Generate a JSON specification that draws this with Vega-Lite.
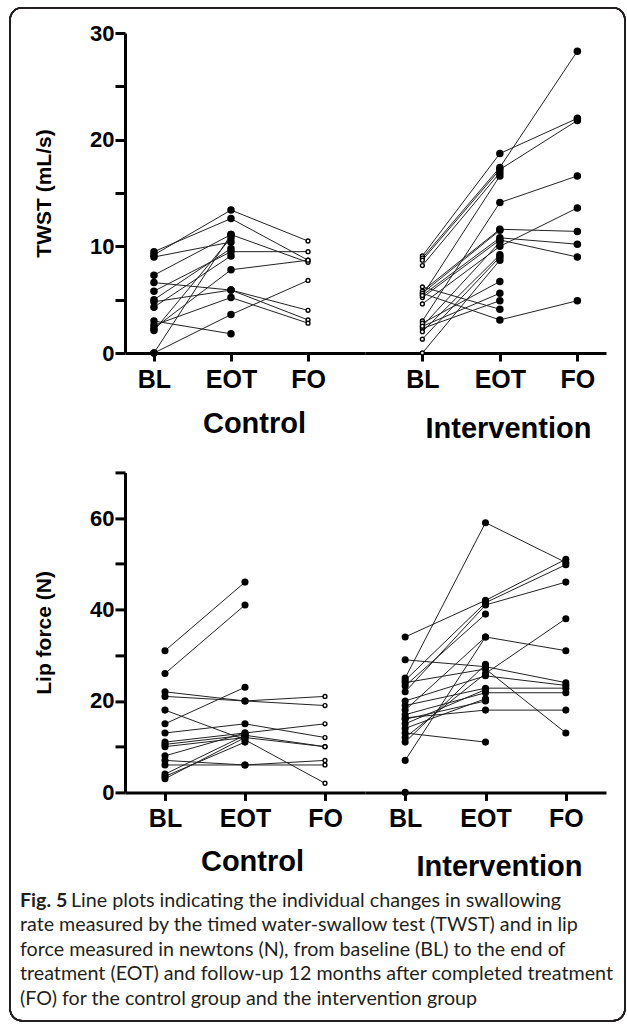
{
  "$schema": "https://vega.github.io/schema/vega-lite/v6.json",
  "padding": {"left": 9, "top": 7, "right": 1, "bottom": 1},
  "background": "white",
  "bounds": "flush",
  "columns": 2,
  "spacing": {"row": 119.4, "column": 0},
  "config": {
    "view": {"stroke": null},
    "font": "Liberation Sans",
    "axis": {
      "grid": false,
      "domainColor": "black",
      "domainWidth": 3,
      "tickColor": "black",
      "tickWidth": 3,
      "labelColor": "black",
      "labelFont": "Liberation Sans",
      "labelFontWeight": "bold",
      "titleColor": "black",
      "titleFont": "Liberation Sans",
      "titleFontWeight": "bold"
    }
  },
  "datasets": {
    "twst": [
      {"group": "Control", "subject": "C1", "time": "BL", "value": 9.2},
      {"group": "Control", "subject": "C1", "time": "EOT", "value": 13.4},
      {"group": "Control", "subject": "C1", "time": "FO", "value": 10.5},
      {"group": "Control", "subject": "C2", "time": "BL", "value": 9.5},
      {"group": "Control", "subject": "C2", "time": "EOT", "value": 12.6},
      {"group": "Control", "subject": "C2", "time": "FO", "value": 8.7},
      {"group": "Control", "subject": "C3", "time": "BL", "value": 9.0},
      {"group": "Control", "subject": "C3", "time": "EOT", "value": 10.4},
      {"group": "Control", "subject": "C4", "time": "BL", "value": 7.3},
      {"group": "Control", "subject": "C4", "time": "EOT", "value": 11.1},
      {"group": "Control", "subject": "C4", "time": "FO", "value": 8.5},
      {"group": "Control", "subject": "C5", "time": "BL", "value": 6.6},
      {"group": "Control", "subject": "C5", "time": "EOT", "value": 5.9},
      {"group": "Control", "subject": "C5", "time": "FO", "value": 4.0},
      {"group": "Control", "subject": "C6", "time": "BL", "value": 5.8},
      {"group": "Control", "subject": "C6", "time": "EOT", "value": 9.5},
      {"group": "Control", "subject": "C6", "time": "FO", "value": 9.5},
      {"group": "Control", "subject": "C7", "time": "BL", "value": 5.0},
      {"group": "Control", "subject": "C7", "time": "EOT", "value": 9.8},
      {"group": "Control", "subject": "C8", "time": "BL", "value": 4.8},
      {"group": "Control", "subject": "C8", "time": "EOT", "value": 5.9},
      {"group": "Control", "subject": "C8", "time": "FO", "value": 3.1},
      {"group": "Control", "subject": "C9", "time": "BL", "value": 4.3},
      {"group": "Control", "subject": "C9", "time": "EOT", "value": 9.1},
      {"group": "Control", "subject": "C10", "time": "BL", "value": 3.0},
      {"group": "Control", "subject": "C10", "time": "EOT", "value": 1.8},
      {"group": "Control", "subject": "C11", "time": "BL", "value": 2.6},
      {"group": "Control", "subject": "C11", "time": "EOT", "value": 5.2},
      {"group": "Control", "subject": "C11", "time": "FO", "value": 2.8},
      {"group": "Control", "subject": "C12", "time": "BL", "value": 2.3},
      {"group": "Control", "subject": "C12", "time": "EOT", "value": 7.8},
      {"group": "Control", "subject": "C12", "time": "FO", "value": 8.7},
      {"group": "Control", "subject": "C13", "time": "BL", "value": 2.1},
      {"group": "Control", "subject": "C13", "time": "EOT", "value": 10.8},
      {"group": "Control", "subject": "C14", "time": "BL", "value": 0},
      {"group": "Control", "subject": "C14", "time": "EOT", "value": 11.1},
      {"group": "Control", "subject": "C15", "time": "BL", "value": 0},
      {"group": "Control", "subject": "C15", "time": "EOT", "value": 3.6},
      {"group": "Control", "subject": "C15", "time": "FO", "value": 6.8},
      {"group": "Intervention", "subject": "I1", "time": "BL", "value": 9.1},
      {"group": "Intervention", "subject": "I1", "time": "EOT", "value": 18.7},
      {"group": "Intervention", "subject": "I1", "time": "FO", "value": 22.0},
      {"group": "Intervention", "subject": "I2", "time": "BL", "value": 8.9},
      {"group": "Intervention", "subject": "I2", "time": "EOT", "value": 17.4},
      {"group": "Intervention", "subject": "I2", "time": "FO", "value": 28.3},
      {"group": "Intervention", "subject": "I3", "time": "BL", "value": 8.7},
      {"group": "Intervention", "subject": "I3", "time": "EOT", "value": 17.2},
      {"group": "Intervention", "subject": "I3", "time": "FO", "value": 21.8},
      {"group": "Intervention", "subject": "I4", "time": "BL", "value": 8.2},
      {"group": "Intervention", "subject": "I4", "time": "EOT", "value": 16.9},
      {"group": "Intervention", "subject": "I5", "time": "BL", "value": 6.2},
      {"group": "Intervention", "subject": "I5", "time": "EOT", "value": 4.1},
      {"group": "Intervention", "subject": "I6", "time": "BL", "value": 5.8},
      {"group": "Intervention", "subject": "I6", "time": "EOT", "value": 11.6},
      {"group": "Intervention", "subject": "I6", "time": "FO", "value": 11.4},
      {"group": "Intervention", "subject": "I7", "time": "BL", "value": 5.6},
      {"group": "Intervention", "subject": "I7", "time": "EOT", "value": 3.1},
      {"group": "Intervention", "subject": "I7", "time": "FO", "value": 4.9},
      {"group": "Intervention", "subject": "I8", "time": "BL", "value": 5.4},
      {"group": "Intervention", "subject": "I8", "time": "EOT", "value": 10.8},
      {"group": "Intervention", "subject": "I8", "time": "FO", "value": 10.2},
      {"group": "Intervention", "subject": "I9", "time": "BL", "value": 5.2},
      {"group": "Intervention", "subject": "I9", "time": "EOT", "value": 10.6},
      {"group": "Intervention", "subject": "I9", "time": "FO", "value": 9.0},
      {"group": "Intervention", "subject": "I10", "time": "BL", "value": 4.6},
      {"group": "Intervention", "subject": "I10", "time": "EOT", "value": 10.0},
      {"group": "Intervention", "subject": "I10", "time": "FO", "value": 13.6},
      {"group": "Intervention", "subject": "I11", "time": "BL", "value": 5.6},
      {"group": "Intervention", "subject": "I11", "time": "EOT", "value": 11.5},
      {"group": "Intervention", "subject": "I12", "time": "BL", "value": 5.4},
      {"group": "Intervention", "subject": "I12", "time": "EOT", "value": 16.6},
      {"group": "Intervention", "subject": "I13", "time": "BL", "value": 3.0},
      {"group": "Intervention", "subject": "I13", "time": "EOT", "value": 14.1},
      {"group": "Intervention", "subject": "I13", "time": "FO", "value": 16.6},
      {"group": "Intervention", "subject": "I14", "time": "BL", "value": 2.8},
      {"group": "Intervention", "subject": "I14", "time": "EOT", "value": 6.7},
      {"group": "Intervention", "subject": "I15", "time": "BL", "value": 2.5},
      {"group": "Intervention", "subject": "I15", "time": "EOT", "value": 5.6},
      {"group": "Intervention", "subject": "I16", "time": "BL", "value": 2.3},
      {"group": "Intervention", "subject": "I16", "time": "EOT", "value": 4.9},
      {"group": "Intervention", "subject": "I17", "time": "BL", "value": 2.0},
      {"group": "Intervention", "subject": "I17", "time": "EOT", "value": 9.2},
      {"group": "Intervention", "subject": "I18", "time": "BL", "value": 1.3},
      {"group": "Intervention", "subject": "I18", "time": "EOT", "value": 9.0},
      {"group": "Intervention", "subject": "I19", "time": "BL", "value": 0},
      {"group": "Intervention", "subject": "I19", "time": "EOT", "value": 8.7},
      {"group": "Intervention", "subject": "I20", "time": "BL", "value": 2.5},
      {"group": "Intervention", "subject": "I20", "time": "EOT", "value": 10.4}
    ],
    "lip": [
      {"group": "Control", "subject": "L1", "time": "BL", "value": 31},
      {"group": "Control", "subject": "L1", "time": "EOT", "value": 46},
      {"group": "Control", "subject": "L2", "time": "BL", "value": 26},
      {"group": "Control", "subject": "L2", "time": "EOT", "value": 41},
      {"group": "Control", "subject": "L3", "time": "BL", "value": 22},
      {"group": "Control", "subject": "L3", "time": "EOT", "value": 20},
      {"group": "Control", "subject": "L3", "time": "FO", "value": 21},
      {"group": "Control", "subject": "L4", "time": "BL", "value": 21},
      {"group": "Control", "subject": "L4", "time": "EOT", "value": 20},
      {"group": "Control", "subject": "L4", "time": "FO", "value": 19},
      {"group": "Control", "subject": "L5", "time": "BL", "value": 18},
      {"group": "Control", "subject": "L5", "time": "EOT", "value": 11.5},
      {"group": "Control", "subject": "L5", "time": "FO", "value": 2},
      {"group": "Control", "subject": "L6", "time": "BL", "value": 15},
      {"group": "Control", "subject": "L6", "time": "EOT", "value": 23},
      {"group": "Control", "subject": "L7", "time": "BL", "value": 13},
      {"group": "Control", "subject": "L7", "time": "EOT", "value": 15},
      {"group": "Control", "subject": "L7", "time": "FO", "value": 12},
      {"group": "Control", "subject": "L8", "time": "BL", "value": 11},
      {"group": "Control", "subject": "L8", "time": "EOT", "value": 13},
      {"group": "Control", "subject": "L8", "time": "FO", "value": 15},
      {"group": "Control", "subject": "L9", "time": "BL", "value": 10.5},
      {"group": "Control", "subject": "L9", "time": "EOT", "value": 12.5},
      {"group": "Control", "subject": "L9", "time": "FO", "value": 10},
      {"group": "Control", "subject": "L10", "time": "BL", "value": 10},
      {"group": "Control", "subject": "L10", "time": "EOT", "value": 12},
      {"group": "Control", "subject": "L10", "time": "FO", "value": 10},
      {"group": "Control", "subject": "L11", "time": "BL", "value": 8},
      {"group": "Control", "subject": "L11", "time": "EOT", "value": 13},
      {"group": "Control", "subject": "L12", "time": "BL", "value": 7},
      {"group": "Control", "subject": "L12", "time": "EOT", "value": 6},
      {"group": "Control", "subject": "L12", "time": "FO", "value": 7},
      {"group": "Control", "subject": "L13", "time": "BL", "value": 6},
      {"group": "Control", "subject": "L13", "time": "EOT", "value": 6},
      {"group": "Control", "subject": "L13", "time": "FO", "value": 6},
      {"group": "Control", "subject": "L14", "time": "BL", "value": 4},
      {"group": "Control", "subject": "L14", "time": "EOT", "value": 12.5},
      {"group": "Control", "subject": "L15", "time": "BL", "value": 3.5},
      {"group": "Control", "subject": "L15", "time": "EOT", "value": 11},
      {"group": "Control", "subject": "L16", "time": "BL", "value": 3},
      {"group": "Control", "subject": "L16", "time": "EOT", "value": 12},
      {"group": "Intervention", "subject": "M1", "time": "BL", "value": 25},
      {"group": "Intervention", "subject": "M1", "time": "EOT", "value": 59},
      {"group": "Intervention", "subject": "M1", "time": "FO", "value": 50.3},
      {"group": "Intervention", "subject": "M2", "time": "BL", "value": 34},
      {"group": "Intervention", "subject": "M2", "time": "EOT", "value": 42},
      {"group": "Intervention", "subject": "M2", "time": "FO", "value": 51},
      {"group": "Intervention", "subject": "M3", "time": "BL", "value": 24.5},
      {"group": "Intervention", "subject": "M3", "time": "EOT", "value": 41.5},
      {"group": "Intervention", "subject": "M3", "time": "FO", "value": 49.8},
      {"group": "Intervention", "subject": "M4", "time": "BL", "value": 22},
      {"group": "Intervention", "subject": "M4", "time": "EOT", "value": 41},
      {"group": "Intervention", "subject": "M4", "time": "FO", "value": 46},
      {"group": "Intervention", "subject": "M5", "time": "BL", "value": 23.3},
      {"group": "Intervention", "subject": "M5", "time": "EOT", "value": 39},
      {"group": "Intervention", "subject": "M6", "time": "BL", "value": 18},
      {"group": "Intervention", "subject": "M6", "time": "EOT", "value": 34},
      {"group": "Intervention", "subject": "M6", "time": "FO", "value": 31},
      {"group": "Intervention", "subject": "M7", "time": "BL", "value": 29},
      {"group": "Intervention", "subject": "M7", "time": "EOT", "value": 27.5},
      {"group": "Intervention", "subject": "M7", "time": "FO", "value": 24},
      {"group": "Intervention", "subject": "M8", "time": "BL", "value": 24},
      {"group": "Intervention", "subject": "M8", "time": "EOT", "value": 27},
      {"group": "Intervention", "subject": "M8", "time": "FO", "value": 13},
      {"group": "Intervention", "subject": "M9", "time": "BL", "value": 12},
      {"group": "Intervention", "subject": "M9", "time": "EOT", "value": 26},
      {"group": "Intervention", "subject": "M9", "time": "FO", "value": 38},
      {"group": "Intervention", "subject": "M10", "time": "BL", "value": 20},
      {"group": "Intervention", "subject": "M10", "time": "EOT", "value": 25.5},
      {"group": "Intervention", "subject": "M10", "time": "FO", "value": 23.4},
      {"group": "Intervention", "subject": "M11", "time": "BL", "value": 19},
      {"group": "Intervention", "subject": "M11", "time": "EOT", "value": 22.8},
      {"group": "Intervention", "subject": "M11", "time": "FO", "value": 22.8},
      {"group": "Intervention", "subject": "M12", "time": "BL", "value": 17},
      {"group": "Intervention", "subject": "M12", "time": "EOT", "value": 21.8},
      {"group": "Intervention", "subject": "M12", "time": "FO", "value": 21.8},
      {"group": "Intervention", "subject": "M13", "time": "BL", "value": 16.3},
      {"group": "Intervention", "subject": "M13", "time": "EOT", "value": 18},
      {"group": "Intervention", "subject": "M13", "time": "FO", "value": 18},
      {"group": "Intervention", "subject": "M14", "time": "BL", "value": 14},
      {"group": "Intervention", "subject": "M14", "time": "EOT", "value": 20.5},
      {"group": "Intervention", "subject": "M15", "time": "BL", "value": 13},
      {"group": "Intervention", "subject": "M15", "time": "EOT", "value": 11},
      {"group": "Intervention", "subject": "M16", "time": "BL", "value": 11},
      {"group": "Intervention", "subject": "M16", "time": "EOT", "value": 28},
      {"group": "Intervention", "subject": "M17", "time": "BL", "value": 7},
      {"group": "Intervention", "subject": "M17", "time": "EOT", "value": 34},
      {"group": "Intervention", "subject": "M18", "time": "BL", "value": 0},
      {"group": "Intervention", "subject": "M19", "time": "BL", "value": 16},
      {"group": "Intervention", "subject": "M19", "time": "EOT", "value": 20},
      {"group": "Intervention", "subject": "M20", "time": "BL", "value": 15},
      {"group": "Intervention", "subject": "M20", "time": "EOT", "value": 22.5}
    ],
    "caption": [
      {"line": 1, "part": "bold", "text": "Fig. 5"},
      {"line": 1, "part": "first", "text": "Line plots indicating the individual changes in swallowing"},
      {"line": 2, "part": "body", "text": "rate measured by the timed water-swallow test (TWST) and in lip"},
      {"line": 3, "part": "body", "text": "force measured in newtons (N), from baseline (BL) to the end of"},
      {"line": 4, "part": "body", "text": "treatment (EOT) and follow-up 12 months after completed treatment"},
      {"line": 5, "part": "body", "text": "(FO) for the control group and the intervention group"}
    ]
  },
  "concat": [
    {
      "width": 240,
      "height": 320,
      "data": {"name": "twst"},
      "transform": [{"filter": "datum.group === 'Control'"}],
      "encoding": {
        "x": {
          "field": "time", "type": "ordinal",
          "scale": {"type": "point", "domain": ["BL", "EOT", "FO"], "padding": 0.558, "align": 0.337},
          "axis": {"title": "Control", "labelAngle": 0, "labelFontSize": 25, "tickSize": 8, "labelPadding": 6, "titleFontSize": 29, "titleX": 129, "titleY": 56, "titleBaseline": "top"}
        },
        "y": {
          "field": "value", "type": "quantitative",
          "scale": {"domain": [0, 30], "nice": false, "zero": true},
          "axis": {
            "values": [0, 5, 10, 15, 20, 25, 30],
            "labelExpr": "datum.value % 10 === 0 ? datum.label : ''",
            "labelFontSize": 22, "tickSize": 10, "labelPadding": 1,
            "title": "TWST (mL/s)", "titleFontSize": 21, "titleX": -81, "titleY": 160, "titleBaseline": "middle", "titleAngle": 270,
            "encode": {"ticks": {"update": {"x2": {"signal": "datum.value % 10 === 0 ? -10 : -6"}}}}
          }
        }
      },
      "layer": [
        {"mark": {"type": "line", "color": "#222222", "strokeWidth": 1}, "encoding": {"detail": {"field": "subject"}}},
        {
          "mark": {"type": "point", "shape": "circle", "filled": true, "opacity": 1},
          "encoding": {
            "fill": {"condition": {"test": "datum.time === 'FO'", "value": "white"}, "value": "black"},
            "stroke": {"value": "black"},
            "strokeWidth": {"condition": {"test": "datum.time === 'FO'", "value": 1.4}, "value": 0},
            "size": {"condition": {"test": "datum.time === 'FO'", "value": 15}, "value": 56}
          }
        }
      ]
    },
    {
      "width": 241,
      "height": 320,
      "data": {"name": "twst"},
      "transform": [{"filter": "datum.group === 'Intervention'"}],
      "encoding": {
        "x": {
          "field": "time", "type": "ordinal",
          "scale": {"type": "point", "domain": ["BL", "EOT", "FO"], "padding": 0.555, "align": 0.667},
          "axis": {"title": "Intervention", "labelAngle": 0, "labelFontSize": 25, "tickSize": 8, "labelPadding": 6, "titleFontSize": 29, "titleX": 143, "titleY": 61, "titleBaseline": "top"}
        },
        "y": {
          "field": "value", "type": "quantitative",
          "scale": {"domain": [0, 30], "nice": false, "zero": true},
          "axis": null
        }
      },
      "layer": [
        {"mark": {"type": "line", "color": "#222222", "strokeWidth": 1}, "encoding": {"detail": {"field": "subject"}}},
        {
          "mark": {"type": "point", "shape": "circle", "filled": true, "opacity": 1},
          "encoding": {
            "fill": {"condition": {"test": "datum.time === 'BL'", "value": "white"}, "value": "black"},
            "stroke": {"value": "black"},
            "strokeWidth": {"condition": {"test": "datum.time === 'BL'", "value": 1.4}, "value": 0},
            "size": {"condition": {"test": "datum.time === 'BL'", "value": 15}, "value": 56}
          }
        }
      ]
    },
    {
      "width": 240,
      "height": 320,
      "data": {"name": "lip"},
      "transform": [{"filter": "datum.group === 'Control'"}],
      "encoding": {
        "x": {
          "field": "time", "type": "ordinal",
          "scale": {"type": "point", "domain": ["BL", "EOT", "FO"], "padding": 0.5},
          "axis": {"title": "Control", "labelAngle": 0, "labelFontSize": 25, "tickSize": 8, "labelPadding": 6, "titleFontSize": 29, "titleX": 127, "titleY": 55, "titleBaseline": "top"}
        },
        "y": {
          "field": "value", "type": "quantitative",
          "scale": {"domain": [0, 70], "nice": false, "zero": true},
          "axis": {
            "values": [0, 10, 20, 30, 40, 50, 60, 70],
            "labelExpr": "datum.value % 20 === 0 ? datum.label : ''",
            "labelFontSize": 22, "tickSize": 10, "labelPadding": 1,
            "title": "Lip force (N)", "titleFontSize": 21, "titleX": -81, "titleY": 160, "titleBaseline": "middle", "titleAngle": 270,
            "encode": {"ticks": {"update": {"x2": {"signal": "datum.value % 20 === 0 ? -10 : -6"}}}}
          }
        }
      },
      "layer": [
        {"mark": {"type": "line", "color": "#222222", "strokeWidth": 1}, "encoding": {"detail": {"field": "subject"}}},
        {
          "mark": {"type": "point", "shape": "circle", "filled": true, "opacity": 1},
          "encoding": {
            "fill": {"condition": {"test": "datum.time === 'FO'", "value": "white"}, "value": "black"},
            "stroke": {"value": "black"},
            "strokeWidth": {"condition": {"test": "datum.time === 'FO'", "value": 1.4}, "value": 0},
            "size": {"condition": {"test": "datum.time === 'FO'", "value": 15}, "value": 50}
          }
        }
      ]
    },
    {
      "width": 241,
      "height": 320,
      "data": {"name": "lip"},
      "transform": [{"filter": "datum.group === 'Intervention'"}],
      "encoding": {
        "x": {
          "field": "time", "type": "ordinal",
          "scale": {"type": "point", "domain": ["BL", "EOT", "FO"], "padding": 0.5},
          "axis": {"title": "Intervention", "labelAngle": 0, "labelFontSize": 25, "tickSize": 8, "labelPadding": 6, "titleFontSize": 29, "titleX": 134, "titleY": 60, "titleBaseline": "top"}
        },
        "y": {
          "field": "value", "type": "quantitative",
          "scale": {"domain": [0, 70], "nice": false, "zero": true},
          "axis": null
        }
      },
      "layer": [
        {"mark": {"type": "line", "color": "#222222", "strokeWidth": 1}, "encoding": {"detail": {"field": "subject"}}},
        {
          "mark": {"type": "point", "shape": "circle", "filled": true, "opacity": 1, "fill": "black", "strokeWidth": 0, "size": 50}
        }
      ]
    },
    {
      "width": 240,
      "height": 98,
      "data": {"name": "caption"},
      "layer": [
        {
          "mark": {"type": "rect", "fill": null, "stroke": "#231f20", "strokeWidth": 1.5, "cornerRadius": 12},
          "encoding": {
            "x": {"datum": -0.479, "type": "quantitative", "scale": {"domain": [0, 1]}, "axis": null},
            "x2": {"datum": 2.083},
            "y": {"datum": -35.9, "type": "quantitative", "scale": {"domain": [1, 5], "reverse": true, "nice": false, "zero": false}, "axis": null},
            "y2": {"datum": 5.445}
          }
        },
        {
          "transform": [{"filter": "datum.part === 'bold'"}],
          "mark": {"type": "text", "align": "left", "baseline": "alphabetic", "font": "Lato", "fontWeight": "bold", "fontSize": 19.7, "color": "#231f20", "dx": -105, "dy": -5},
          "encoding": {
            "x": {"datum": 0, "type": "quantitative"},
            "y": {"field": "line", "type": "quantitative"},
            "text": {"field": "text"}
          }
        },
        {
          "transform": [{"filter": "datum.part === 'first'"}],
          "mark": {"type": "text", "align": "left", "baseline": "alphabetic", "font": "Lato", "fontSize": 19.7, "color": "#231f20", "dx": -54, "dy": -5},
          "encoding": {
            "x": {"datum": 0, "type": "quantitative"},
            "y": {"field": "line", "type": "quantitative"},
            "text": {"field": "text"}
          }
        },
        {
          "transform": [{"filter": "datum.part === 'body'"}],
          "mark": {"type": "text", "align": "left", "baseline": "alphabetic", "font": "Lato", "fontSize": 19.7, "color": "#231f20", "dx": -105, "dy": -5},
          "encoding": {
            "x": {"datum": 0, "type": "quantitative"},
            "y": {"field": "line", "type": "quantitative"},
            "text": {"field": "text"}
          }
        }
      ]
    }
  ]
}
